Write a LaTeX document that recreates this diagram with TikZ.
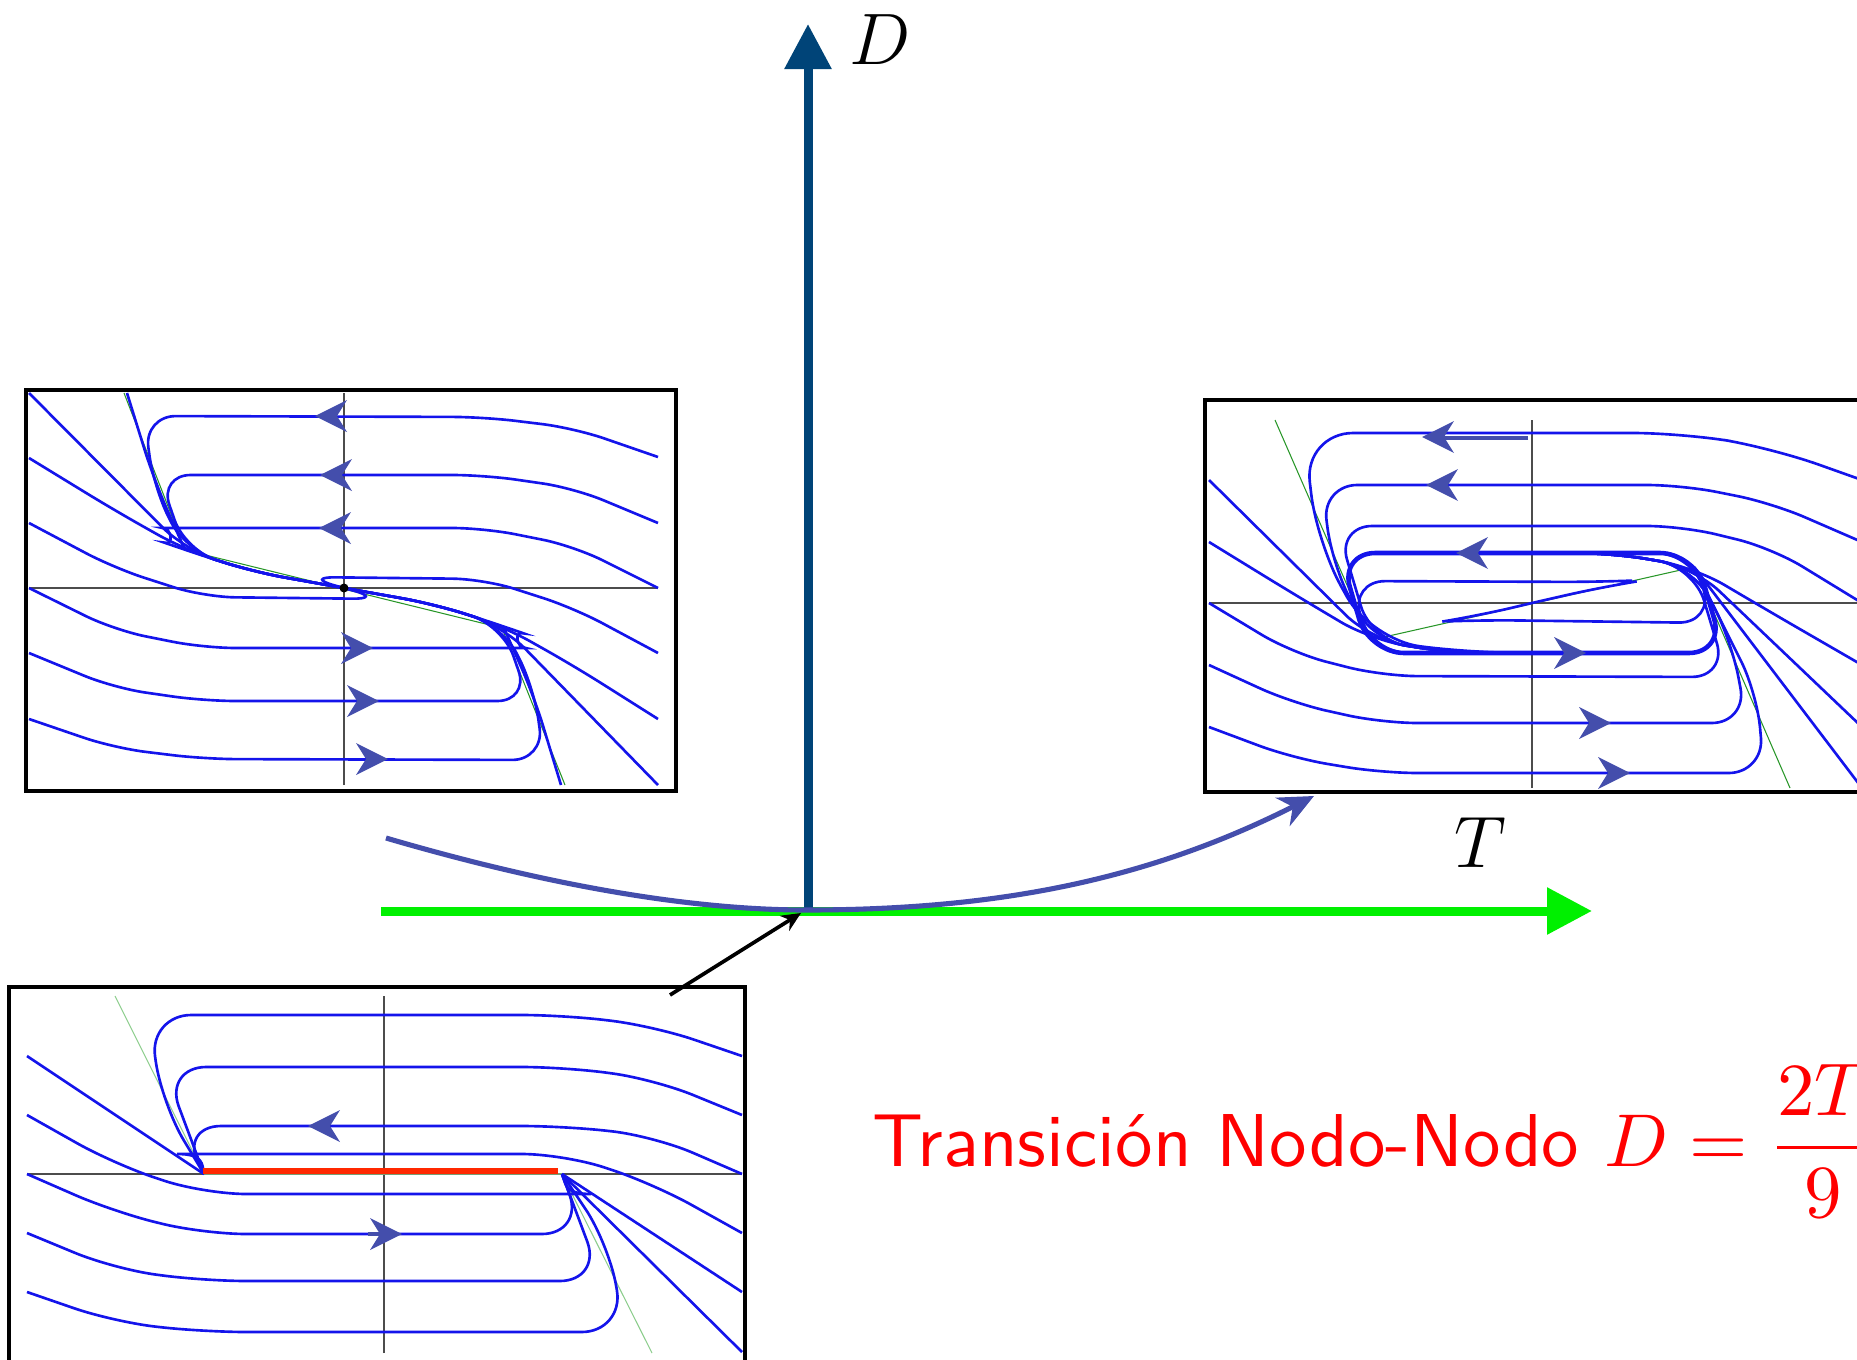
\documentclass[tikz,border=0pt]{standalone}
\usepackage{amsmath}
\usepackage{xcolor}
\usepackage{tikz}
\usetikzlibrary{arrows.meta,positioning}

\definecolor{azultray}{RGB}{20,20,235}
\definecolor{indigo}{RGB}{68,78,172}
\definecolor{azulD}{RGB}{0,68,120}
\definecolor{verdeT}{RGB}{0,240,0}
\definecolor{verdeinv}{RGB}{40,150,40}
\definecolor{verdeclaro}{RGB}{140,205,140}
\definecolor{rojo}{RGB}{255,0,0}
\definecolor{rojoseg}{RGB}{255,40,0}

\begin{document}
\begin{tikzpicture}[
  x=0.01cm, y=0.01cm,
  font=\fontsize{21.3}{26}\selectfont,
  marco/.style={draw, line width=1.2pt, inner sep=0pt},
  tray/.style={draw=azultray, line width=0.75pt},
  ciclo/.style={tray, line width=1.3pt},
  invariante/.style={draw=verdeinv, line width=0.3pt, sharp corners},
  ejes/.style={draw=gray!60!black, line width=0.35pt, sharp corners},
  ejeT/.style={draw=verdeT, line width=2.56pt, -{Triangle[length=12.8pt, width=12.8pt]}},
  ejeD/.style={draw=azulD, line width=2.56pt, -{Triangle[length=12.8pt, width=12.8pt]}},
  curva/.style={draw=indigo, line width=1.45pt, -{Stealth[length=10pt, width=9pt]}},
  flechanegra/.style={draw=black, line width=1.05pt, -{Stealth[length=5.5pt, width=5pt]}},
  punta/.pic={\fill[indigo, sharp corners] (0,0) -- (-32,16) -- (-22,0) -- (-32,-16) -- cycle;}
]
\useasboundingbox (0,0) rectangle (1857,1359);

% nodo estable
\begin{scope}[shift={(344,771)}, rounded corners=9pt]
\draw[ejes] (-315,0) -- (314,0) (0,-197) -- (0,195);
\draw[invariante] (-220,195) -- (-159,38) -- (158,-40) -- (221,-197);
\draw[tray] (314,131) -- (230,160) -- (140,171) -- (-200,172) -- (-190,100) -- (-159,38) -- (-90,16) -- (0,0);
\draw[tray] (314,65) -- (230,100) -- (140,113) -- (-185,113) -- (-159,38) -- (-90,16) -- (0,0);
\draw[tray] (314,0) -- (230,42) -- (140,60) -- (-150,60) .. controls (-172,60) and (-170,42) .. (-150,35) -- (-90,16) -- (0,0);
\draw[tray] (314,-65) -- (230,-20) -- (140,9) -- (-40,11) [sharp corners] -- (0,0);
\draw[tray] (-315,65) -- (-230,20) -- (-140,-9) -- (40,-11) [sharp corners] -- (0,0);
\draw[tray] (-315,0) -- (-230,-42) -- (-140,-60) -- (150,-60) .. controls (172,-60) and (170,-42) .. (150,-35) -- (90,-16) -- (0,0);
\draw[tray] (-315,-65) -- (-230,-100) -- (-140,-113) -- (185,-113) -- (159,-38) -- (90,-16) -- (0,0);
\draw[tray] (-315,-131) -- (-230,-160) -- (-140,-171) -- (200,-172) -- (190,-100) -- (159,-38) -- (90,-16) -- (0,0);
\draw[tray] (-315,195) -- (-159,38) -- (-90,16) -- (0,0);
\draw[tray] (-315,130) -- (-230,78) -- (-159,38) -- (-90,16) -- (0,0);
\draw[tray] (314,-197) -- (159,-38) -- (90,-16) -- (0,0);
\draw[tray] (314,-131) -- (230,-78) -- (159,-38) -- (90,-16) -- (0,0);
\draw[tray] (-217,195) -- (-190,108) -- (-159,38);
\draw[tray] (217,-197) -- (190,-108) -- (159,-38);
\fill (0,0) circle (4.5);
\pic[rotate=180] at (-29,172) {punta};
\pic[rotate=180] at (-24,113) {punta};
\pic[rotate=180] at (-25,60) {punta};
\pic at (29,-60) {punta};
\pic at (35,-113) {punta};
\pic at (44,-171) {punta};
\end{scope}
\node[marco, minimum width=6.5cm, minimum height=4.01cm] (retratoA) at (351,768.5) {};

% ciclo limite
\begin{scope}[shift={(1532,756)}, rounded corners=10pt]
\draw[ejes] (-323,0) -- (330,0) (0,-185) -- (0,183);
\draw[invariante] (-257,183) -- (-161,-37) -- (162,36) -- (258,-185);
\draw[ciclo] (0,50) -- (-192,50) -- (-163,-50) -- (192,-50) -- (163,50) -- cycle;
\draw[tray] (0,0) -- (70,16) .. controls (95,20) and (90,22) .. (65,21) -- (-182,22) -- (-160,-50) -- (-60,-50);
\draw[tray] (0,0) -- (-55,-13) .. controls (-80,-17) and (-75,-18) .. (-50,-17) -- (182,-20) -- (160,50) -- (60,50);
\draw[tray, rounded corners=14pt] (330,123) -- (240,155) -- (150,170) -- (-228,170) -- (-215,60) -- (-161,-37) -- (-60,-50) -- (0,-50);
\draw[tray] (330,61) -- (240,100) -- (150,118) -- (-210,118) -- (-200,40) -- (-161,-37) -- (-80,-50) -- (0,-50);
\draw[tray] (330,0) -- (240,55) -- (150,77) -- (-195,77) -- (-161,-37) -- (-80,-50) -- (0,-50);
\draw[tray] (-323,123) -- (-161,-37) -- (-80,-50) -- (0,-50);
\draw[tray] (-323,61) -- (-240,10) -- (-161,-37) -- (-80,-50) -- (0,-50);
\draw[tray] (-323,0) -- (-240,-50) -- (-150,-73) -- (195,-74) -- (162,36) -- (80,50) -- (0,50);
\draw[tray] (-323,-62) -- (-240,-100) -- (-150,-120) -- (215,-120) -- (200,-40) -- (162,36) -- (80,50) -- (0,50);
\draw[tray] (-323,-124) -- (-240,-155) -- (-150,-170) -- (232,-170) -- (225,-90) -- (162,36) -- (80,50) -- (0,50);
\draw[tray] (330,-62) -- (240,-10) -- (162,36) -- (80,50) -- (0,50);
\draw[tray] (330,-124) -- (162,36) -- (80,50) -- (0,50);
\draw[tray] (330,-185) -- (162,36);
\draw[indigo, line width=1.15pt, sharp corners] (-4,165) -- (-100,165);
\pic[rotate=180] at (-110,166) {punta};
\pic[rotate=180] at (-106,118) {punta};
\pic[rotate=180] at (-76,50) {punta};
\pic at (54,-50) {punta};
\pic at (79,-120) {punta};
\pic at (98,-170) {punta};
\end{scope}
\node[marco, minimum width=6.65cm, minimum height=3.92cm] (retratoB) at (1537.5,763) {};

% segmento de equilibrios
\begin{scope}[shift={(384,185)}, rounded corners=12pt]
\draw[ejes] (-357,0) -- (358,0) (0,-179) -- (0,178);
\draw[draw=verdeclaro, line width=0.3pt, sharp corners] (-269,178) -- (-180,0) -- (178,0) -- (268,-179);
\draw[tray] (358,118) -- (270,148) -- (180,159) -- (-235,159) -- (-222,70) -- (-180,0);
\draw[tray] (358,59) -- (270,95) -- (180,107) -- (-220,107) -- (-180,0);
\draw[tray] (358,0) -- (270,38) -- (180,48) -- (-205,48) -- (-180,0);
\draw[tray] (358,-59) -- (270,-10) -- (180,20) -- (-165,20) .. controls (-180,20) and (-182,10) .. (-180,0);
\draw[tray] (-357,59) -- (-270,10) -- (-180,-20) -- (165,-20) .. controls (180,-20) and (182,-10) .. (178,0);
\draw[tray] (-357,0) -- (-270,-38) -- (-180,-60) -- (200,-60) -- (178,0);
\draw[tray] (-357,-59) -- (-270,-95) -- (-180,-107) -- (218,-107) -- (178,0);
\draw[tray] (-357,-118) -- (-270,-148) -- (-180,-158) -- (240,-158) -- (225,-70) -- (178,0);
\draw[tray] (-357,118) -- (-180,0);
\draw[tray] (358,-118) -- (178,0);
\draw[tray] (358,-178) -- (178,0);
\draw[rojoseg, line width=1.7pt, sharp corners] (-181,3) -- (174,3);
\pic[rotate=180] at (-76,48) {punta};
\draw[indigo, line width=1.15pt, sharp corners] (-16,-60) -- (0,-60);
\pic at (18,-60) {punta};
\end{scope}
\node[marco, minimum width=7.36cm, minimum height=3.92cm] (retratoC) at (377,176) {};

% plano traza-determinante
\coordinate (origen) at (808,448);
\coordinate (inicioT) at (381,448);
\coordinate (finT) at (1592,448);
\coordinate (finD) at (808,1335);
\draw[ejeT] (inicioT) -- (finT);
\draw[ejeD] (origen) -- (finD);
\node (etD) at (880,1319) {$D$};
\node (etT) at (1480,516) {$T$};

\coordinate (inicioCurva) at (386,521);
\coordinate (finCurva) at (1314,563);
\draw[curva] (inicioCurva) .. controls (560,470) and (700,449) .. (806,449) .. controls (1000,449) and (1150,480) .. (finCurva);
\coordinate (inicioFlecha) at (670,364);
\coordinate (puntaNegra) at (801,446);
\draw[flechanegra] (inicioFlecha) -- (puntaNegra);

\node[anchor=base west, inner sep=0pt, text=rojo] (transicion) at (872,193) {\scalebox{2.13}{\fontsize{10}{12}\selectfont\sffamily Transición Nodo-Nodo $\displaystyle D=\frac{2T}{9}$}};
\end{tikzpicture}
\end{document}
